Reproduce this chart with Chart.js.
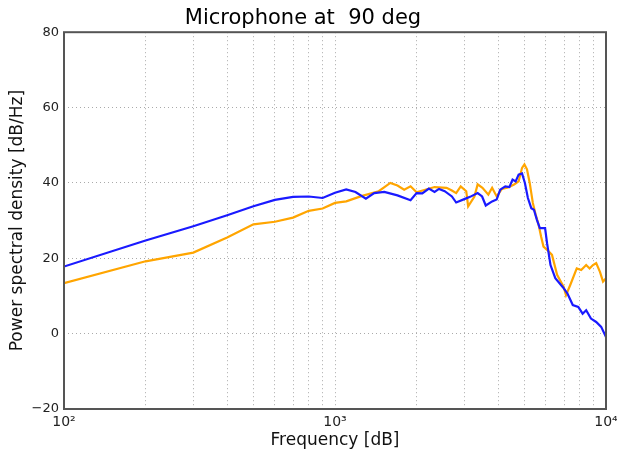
<!DOCTYPE html>
<html>
<head>
<meta charset="utf-8">
<script src="https://cdn.jsdelivr.net/npm/chart.js@4/dist/chart.umd.min.js"></script>
<style>
  html, body { margin: 0; padding: 0; background: #fff; }
  #wrap { width: 617px; height: 457px; }
</style>
</head>
<body>
<div id="wrap"><canvas id="psd"></canvas></div>
<script>
// frequencies [Hz] and PSD values [dB/Hz]
const blueFreq = [100, 200, 300, 400, 500, 600, 700, 800, 900, 1000,
  1100, 1190, 1300, 1395, 1520, 1700, 1900, 2000, 2100, 2220,
  2330, 2420, 2540, 2700, 2800, 3000, 3150, 3360, 3490, 3600,
  3800, 3950, 4070, 4250, 4400, 4520, 4640, 4760, 4900, 5020,
  5150, 5300, 5420, 5560, 5700, 5960, 6060, 6240, 6500, 6920,
  7200, 7540, 7900, 8200, 8450, 8800, 9200, 9600, 10000];
const blueVals = [17.8, 24.7, 28.5, 31.4, 33.8, 35.5, 36.3, 36.4, 36.0, 37.4,
  38.3, 37.6, 35.8, 37.3, 37.6, 36.7, 35.4, 37.3, 37.2, 38.5,
  37.6, 38.4, 37.8, 36.4, 34.8, 35.7, 36.3, 37.3, 36.4, 34.0,
  35.1, 35.6, 38.2, 39.1, 38.9, 40.9, 40.4, 42.2, 42.5, 40.0,
  36.0, 33.3, 32.9, 30.2, 28.0, 28.0, 24.0, 18.2, 14.7, 12.4,
  10.7, 7.6, 7.1, 5.3, 6.2, 4.0, 3.1, 1.8, -0.9];

const orangeFreq = [100, 200, 300, 400, 500, 600, 700, 800, 900, 1000,
  1100, 1250, 1450, 1600, 1700, 1800, 1900, 2000, 2200, 2330,
  2580, 2700, 2800, 2910, 3050, 3100, 3270, 3360, 3500, 3680,
  3800, 3950, 4130, 4350, 4580, 4760, 4900, 5000, 5110, 5230,
  5370, 5500, 5640, 5760, 5880, 6150, 6320, 6600, 6980, 7120,
  7380, 7800, 8100, 8450, 8700, 8950, 9200, 9500, 9750, 10000];
const orangeVals = [13.4, 19.2, 21.5, 25.5, 29.0, 29.7, 30.8, 32.6, 33.2, 34.7,
  35.1, 36.5, 37.8, 40.0, 39.3, 38.2, 39.1, 37.5, 38.4, 38.9,
  38.7, 38.0, 37.3, 39.1, 37.8, 33.8, 36.4, 39.6, 38.7, 36.9,
  38.7, 36.4, 38.4, 38.8, 39.6, 40.4, 44.0, 44.9, 43.6, 40.0,
  34.7, 31.6, 28.9, 25.8, 23.1, 21.8, 20.9, 15.6, 12.4, 10.2,
  12.9, 17.3, 16.9, 18.2, 17.3, 18.2, 18.7, 16.4, 13.8, 14.7];

const yTicks = [-20, 0, 20, 40, 60, 80];
const xMajor = { 100: "10\u00b2", 1000: "10\u00b3", 10000: "10\u2074" };

const FONT = "'DejaVu Sans', sans-serif";

const toPoints = (xs, ys) => xs.map((x, i) => ({ x: x, y: ys[i] }));

// box round the plot area, like matplotlib
const frame = {
  id: "frame",
  afterDraw(chart) {
    const a = chart.chartArea;
    const ctx = chart.ctx;
    ctx.save();
    ctx.strokeStyle = "#555";
    ctx.lineWidth = 2;
    ctx.strokeRect(a.left, a.top, a.right - a.left, a.bottom - a.top);
    ctx.restore();
  }
};

new Chart(document.getElementById("psd"), {
  type: "line",
  data: {
    datasets: [
      {
        data: toPoints(blueFreq, blueVals),
        borderColor: "#1a1aff",
        borderWidth: 2.2,
        pointRadius: 0,
        tension: 0
      },
      {
        data: toPoints(orangeFreq, orangeVals),
        borderColor: "#ffa500",
        borderWidth: 2.2,
        pointRadius: 0,
        tension: 0
      }
    ]
  },
  options: {
    responsive: true,
    maintainAspectRatio: false,
    animation: false,
    layout: { padding: { left: 0, right: 11, top: 0, bottom: 0 } },
    plugins: {
      legend: { display: false },
      tooltip: { enabled: false },
      title: {
        display: true,
        text: "Microphone at  90 deg",
        color: "#000",
        font: { family: FONT, size: 21, weight: "normal" },
        padding: { top: 6, bottom: 1 }
      }
    },
    scales: {
      x: {
        type: "logarithmic",
        min: 100,
        max: 10000,
        afterBuildTicks(scale) {
          const t = [];
          for (let d = 100; d < 10000; d *= 10) {
            for (let k = 1; k < 10; k++) t.push({ value: d * k });
          }
          t.push({ value: 10000 });
          scale.ticks = t;
        },
        afterFit(scale) {
          scale.height = 48;
          // let the 10^4 label hang over the edge as in the original
          scale.paddingLeft = 0;
          scale.paddingRight = 0;
        },
        ticks: {
          autoSkip: false,
          maxRotation: 0,
          color: "#222",
          font: { family: FONT, size: 14 },
          padding: 5,
          callback: (v) => xMajor[v] || ""
        },
        grid: {
          color: "#aaa",
          drawTicks: false
        },
        border: { display: false, dash: [1, 3] },
        title: {
          display: true,
          text: "Frequency [dB]",
          color: "#111",
          font: { family: FONT, size: 17 },
          padding: { top: 4, bottom: 6 }
        }
      },
      y: {
        min: -20,
        max: 80,
        afterBuildTicks(scale) {
          scale.ticks = yTicks.map((v) => ({ value: v }));
        },
        afterFit(scale) { scale.width = 64; },
        ticks: {
          color: "#222",
          font: { family: FONT, size: 13 },
          padding: 5,
          callback: (v) => String(v).replace("-", "\u2212")
        },
        grid: { color: "#aaa", drawTicks: false },
        border: { display: false, dash: [1, 3] },
        title: {
          display: true,
          text: "Power spectral density [dB/Hz]",
          color: "#111",
          font: { family: FONT, size: 17 },
          padding: { top: 7, bottom: 2 }
        }
      }
    }
  },
  plugins: [frame]
});
</script>
</body>
</html>
